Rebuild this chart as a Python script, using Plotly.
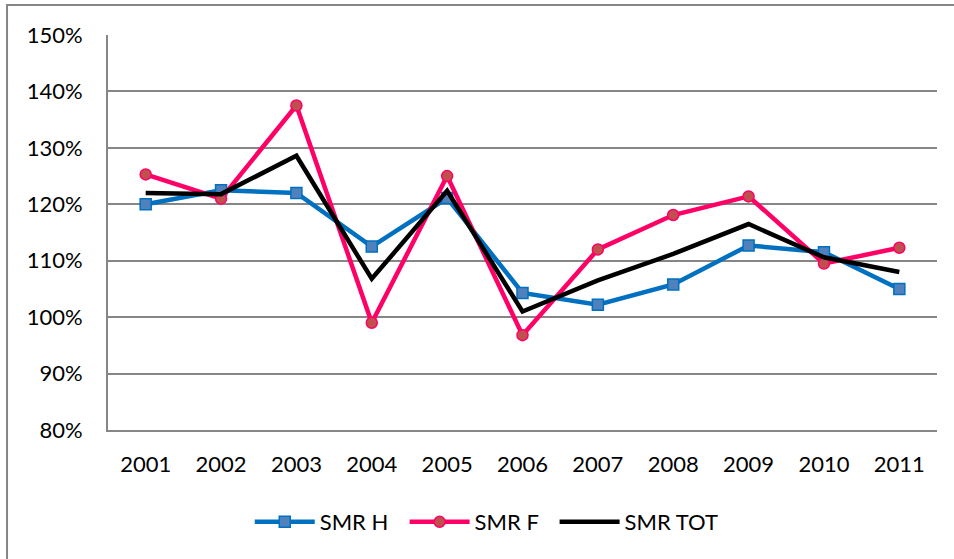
import plotly.graph_objects as go

years = ["2001", "2002", "2003", "2004", "2005", "2006", "2007", "2008", "2009", "2010", "2011"]
smr_h = [1.200, 1.225, 1.220, 1.125, 1.211, 1.043, 1.022, 1.058, 1.127, 1.115, 1.050]
smr_f = [1.253, 1.210, 1.375, 0.990, 1.250, 0.968, 1.120, 1.181, 1.214, 1.095, 1.123]
smr_tot = [1.220, 1.218, 1.286, 1.068, 1.224, 1.010, 1.065, 1.112, 1.165, 1.106, 1.080]
y_ticks = [0.8, 0.9, 1.0, 1.1, 1.2, 1.3, 1.4, 1.5]

FONT = "Lato, Carlito, Calibri, sans-serif"
PAD = "\u00a0\u00a0"

fig = go.Figure()
fig.add_trace(go.Scatter(
    x=years, y=smr_h, name="SMR H" + PAD, mode="lines+markers",
    line=dict(color="#0070C0", width=4.5),
    marker=dict(symbol="square", size=11, color="#4F81BD",
                line=dict(color="#0070C0", width=1.5)),
))
fig.add_trace(go.Scatter(
    x=years, y=smr_f, name="SMR F" + PAD, mode="lines+markers",
    line=dict(color="#FF0066", width=4.5),
    marker=dict(symbol="circle", size=11, color="#C0504D",
                line=dict(color="#FF0066", width=1.5)),
))
fig.add_trace(go.Scatter(
    x=years, y=smr_tot, name="SMR TOT", mode="lines",
    line=dict(color="#000000", width=4.5),
))

fig.update_layout(
    width=954, height=559,
    margin=dict(l=108, r=17, t=35, b=129),
    paper_bgcolor="white", plot_bgcolor="white",
    font=dict(family=FONT, size=22, color="#000000"),
    showlegend=True,
    legend=dict(orientation="h", x=0.171, xanchor="left", y=-0.233, yanchor="middle",
                font=dict(family=FONT, size=22), itemwidth=60,
                traceorder="normal"),
    xaxis=dict(
        type="category", range=[-0.5, 10.5], showgrid=False, zeroline=False,
        showline=True, linecolor="#868686", linewidth=2,
        ticks="", ticklabelstandoff=14,
        tickfont=dict(family=FONT, size=22),
    ),
    yaxis=dict(
        range=[0.8, 1.5], tickvals=y_ticks, tickformat=".0%",
        showgrid=True, gridcolor="#868686", gridwidth=2,
        zeroline=False, showline=True, linecolor="#868686", linewidth=2,
        ticks="", ticklabelstandoff=19,
        tickfont=dict(family=FONT, size=22),
    ),
    shapes=[dict(
        type="rect", xref="paper", yref="paper",
        x0=-0.1218, x1=1.2, y0=-0.6, y1=1.0759,
        line=dict(color="#868686", width=2), fillcolor="rgba(0,0,0,0)",
        layer="below",
    )],
)

fig.write_html("out.html", config={"displayModeBar": False},
               post_script="document.body.style.margin='0px';")
